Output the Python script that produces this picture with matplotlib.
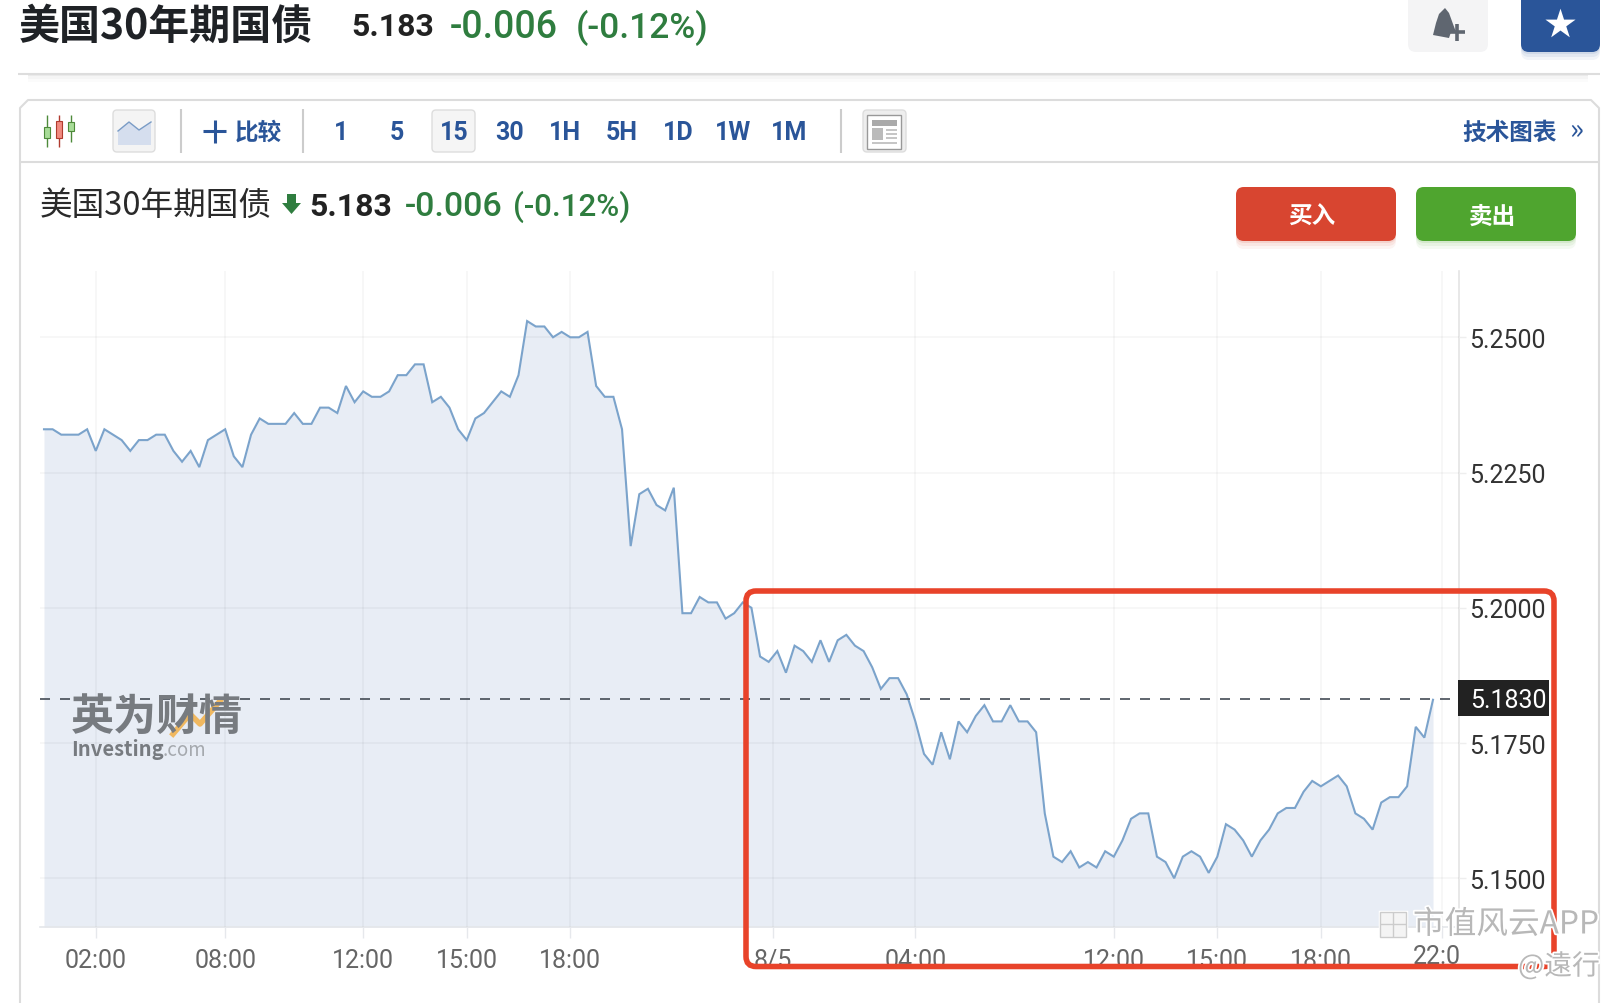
import matplotlib
matplotlib.use('Agg')
import matplotlib.pyplot as plt
import matplotlib.patheffects as pe
from matplotlib.patches import FancyBboxPatch, Rectangle, Polygon

plt.rcParams['font.family'] = ['Noto Sans CJK SC', 'DejaVu Sans']

## chart data, one point every 15 minutes ##
yields = [
    5.233, 5.233, 5.232, 5.232, 5.232, 5.233, 5.229, 5.233, 5.232, 5.231, 5.229, 5.231, 5.231, 5.232, 5.232,
    5.229, 5.227, 5.229, 5.226, 5.231, 5.232, 5.233, 5.228, 5.226, 5.232, 5.235, 5.234, 5.234, 5.234, 5.236,
    5.234, 5.234, 5.237, 5.237, 5.236, 5.241, 5.238, 5.240, 5.239, 5.239, 5.240, 5.243, 5.243, 5.245, 5.245,
    5.238, 5.239, 5.237, 5.233, 5.231, 5.235, 5.236, 5.238, 5.240, 5.239, 5.243, 5.253, 5.252, 5.252, 5.250,
    5.251, 5.250, 5.250, 5.251, 5.241, 5.239, 5.239, 5.233, 5.2114, 5.221, 5.222, 5.219, 5.218, 5.2222, 5.199,
    5.199, 5.202, 5.201, 5.201, 5.198, 5.199, 5.201, 5.200,
    5.191, 5.190, 5.192, 5.188, 5.193, 5.192, 5.190, 5.194, 5.190, 5.194, 5.195, 5.193, 5.192, 5.189, 5.185,
    5.187, 5.187, 5.184, 5.179, 5.173, 5.171, 5.177, 5.172, 5.179, 5.177, 5.180, 5.182, 5.179, 5.179, 5.182,
    5.179, 5.179, 5.177, 5.162, 5.154, 5.153, 5.155, 5.152, 5.153, 5.152, 5.155, 5.154, 5.157, 5.161, 5.162,
    5.162, 5.154, 5.153, 5.150,
    5.154, 5.155, 5.154, 5.151, 5.154, 5.160, 5.159, 5.157, 5.154, 5.157, 5.159, 5.162, 5.163, 5.163, 5.166,
    5.168, 5.167, 5.168, 5.169, 5.167, 5.162, 5.161, 5.159, 5.164, 5.165, 5.165, 5.167, 5.178, 5.176, 5.183,
]
x_tick_pos = [6, 21, 37, 49, 61, 84.5, 101, 124, 136, 148, 162]
x_tick_labels = ['02:00', '08:00', '12:00', '15:00', '18:00', '8/5', '04:00', '12:00', '15:00', '18:00', '']
y_ticks = [5.25, 5.225, 5.2, 5.175, 5.15]
last_price = 5.1832

W, H = 1622, 1004
BLUE = '#2a5599'
GREEN = '#2f7d3f'
NUM_FONT = ['Roboto', 'DejaVu Sans']

fig = plt.figure(figsize=(W / 100, H / 100), dpi=100, facecolor='white')

## chart area, placed by pixel edges ##
left, right, top, bottom = 40, 1459, 272, 928
ax = fig.add_axes([left / W, 1 - bottom / H, (right - left) / W, (bottom - top) / H])

# index 0 sits at x=44px, last point at x=1433px
px_per_idx = (1433 - 44) / (len(yields) - 1)
ax.set_xlim((left - 44) / px_per_idx, (right - 44) / px_per_idx)
# 5.25 sits at y=338.3px, 5410 px per unit
ax.set_ylim(5.25 - (bottom - 338.3) / 5410, 5.25 + (338.3 - top) / 5410)

idx = list(range(len(yields)))
ax.fill_between(idx, yields, ax.get_ylim()[0], color='#e8edf5', lw=0, zorder=1)
ax.plot(idx, yields, color='#7ba3cb', lw=1.5, zorder=3, solid_joinstyle='miter')

ax.set_xticks(x_tick_pos)
ax.set_xticklabels(x_tick_labels, fontsize=18, color='#666666', family=NUM_FONT)
ax.set_yticks(y_ticks)
ax.set_yticklabels([f'{v:.4f}' for v in y_ticks], fontsize=18, color='#333333', family=NUM_FONT)
ax.yaxis.tick_right()
ax.tick_params(axis='x', length=8, width=1, color='#e6e8ec', pad=7)
ax.tick_params(axis='y', length=5, width=1, color='#eeeeee', pad=2)
ax.grid(True, color='black', alpha=0.035, lw=1.2, zorder=2)
ax.set_axisbelow(False)
for side in ['top', 'left']:
    ax.spines[side].set_visible(False)
ax.spines['right'].set_color('#e4e4e4')
ax.spines['right'].set_linewidth(1.2)
ax.spines['bottom'].set_color('#e4e6ea')
ax.spines['bottom'].set_linewidth(1.2)

ax.plot([ax.get_xlim()[0], (1452 - 44) / px_per_idx], [last_price, last_price], color='#444b55', lw=1.2,
        dashes=(6, 6), zorder=4)

## page furniture, drawn in pixel coordinates ##
ui = fig.add_axes([0, 0, 1, 1], zorder=5)
ui.set_xlim(0, W)
ui.set_ylim(H, 0)
ui.axis('off')
ui.patch.set_alpha(0)


def put(x, y, s, size, color='#222222', weight='normal', ha='left', **kw):
    # the CJK font sits a little high with va=center
    return ui.text(x, y + 2.5, s, fontsize=size, color=color, fontweight=weight, ha=ha, va='center', **kw)


def box(x0, y0, x1, y1, color, r=6, ec='none', lw=0, z=2, alpha=None):
    p = FancyBboxPatch((x0 + r, y0 + r), x1 - x0 - 2 * r, y1 - y0 - 2 * r, boxstyle=f'round,pad={r},rounding_size={r}',
                       fc=color, ec=ec, lw=lw, zorder=z, alpha=alpha)
    ui.add_patch(p)


def hline(x0, x1, y, color, lw=1.5, z=2):
    ui.plot([x0, x1], [y, y], color=color, lw=lw, zorder=z, solid_capstyle='butt')


def vline(x, y0, y1, color, lw=1.5, z=2):
    ui.plot([x, x], [y0, y1], color=color, lw=lw, zorder=z, solid_capstyle='butt')


# page header
put(19, 24, '美国30年期国债', 29.5, '#1f2226', 'bold')
put(351, 25, '5.183', 23, '#222222', 'bold', family=NUM_FONT)
put(450, 25, '-0.006', 27, GREEN, 'medium', family=NUM_FONT)
put(576, 25, '(-0.12%)', 25.5, GREEN, 'medium', family=NUM_FONT)

# bell and star buttons
box(1408, -10, 1488, 53, '#f4f4f5', r=8)
ui.add_patch(Polygon([(1445, 9), (1449, 14), (1453, 25), (1456, 33), (1451, 33), (1449, 39), (1433, 36), (1436, 24),
                      (1439, 15)], fc='#5f6670', ec='none', zorder=3))
hline(1448, 1465, 33, '#5f6670', lw=2.6, z=4)
vline(1456.5, 25, 42, '#5f6670', lw=2.6, z=4)
for off, a in [(8, 0.06), (5, 0.08), (2, 0.1)]:
    box(1521, -10, 1600, 53 + off, BLUE, r=8, z=1, alpha=a)
box(1521, -10, 1600, 53, BLUE, r=8)
ui.scatter([1560], [25], s=520, marker='*', color='white', lw=0, zorder=3)

# header rule with a soft shadow
for off, a in [(8, 0.015), (5, 0.025), (2, 0.04)]:
    ui.add_patch(Rectangle((28, 75), 1560, off, fc='black', ec='none', alpha=a, zorder=1))
hline(18, 1600, 75, '#dddddd', lw=1.5)

# card outline and toolbar
ui.plot([20, 20, 28, 1591, 1599, 1599], [H, 109, 101, 101, 109, H], color='#dcdcdc', lw=1.5, zorder=2)
hline(20, 1599, 163, '#dcdcdc')

# candle icon
for cx, wick, body, col, edge in [(46.5, (116, 148), (128, 139), '#a8dc98', '#4d8a3a'),
                                  (58.5, (116, 148), (122, 139), '#f08a80', '#b03a2e'),
                                  (71, (116, 143), (123, 132), '#a8dc98', '#4d8a3a')]:
    vline(cx, wick[0], wick[1], edge, lw=1)
    ui.add_patch(Rectangle((cx - 3, body[0]), 6, body[1] - body[0], fc=col, ec=edge, lw=0.8, zorder=3))

# area icon
box(113, 111, 155, 153, '#f4f4f4', r=4, ec='#dddddd', lw=1)
ui.add_patch(Polygon([(118, 132), (129, 123), (139, 131), (151, 123), (151, 146), (118, 146)], fc='#d5deee', ec='none',
                     zorder=3))
ui.plot([118, 129, 139, 151], [132, 123, 131, 123], color='#7a9cc6', lw=1, zorder=4)

vline(181, 110, 154, '#cccccc')
vline(303, 110, 154, '#cccccc')
vline(841, 110, 154, '#cccccc')

hline(203, 226, 132, BLUE, lw=2.2)
vline(214.5, 121, 144, BLUE, lw=2.2)
put(235, 130, '比较', 17, BLUE, 'bold')

box(432, 111, 475, 153, '#f5f5f5', r=4, ec='#dddddd', lw=1)
for cx, lab in zip([341, 397, 454, 510, 565, 622, 678, 733, 789], ['1', '5', '15', '30', '1H', '5H', '1D', '1W', '1M']):
    put(cx, 130, lab, 18, BLUE, 'bold', ha='center', zorder=4, family=NUM_FONT)

# news icon
box(863, 111, 906, 153, '#eeeeee', r=4, ec='#dddddd', lw=1)
ui.add_patch(Rectangle((867, 116), 34, 34, fc='white', ec='#999999', lw=1, zorder=3))
ui.add_patch(Rectangle((872, 121), 25, 6, fc='#aaaaaa', ec='none', zorder=4))
ui.add_patch(Rectangle((872, 129), 11, 12, fc='#bbbbbb', ec='none', zorder=4))
for ly in [131, 135, 139]:
    hline(886, 897, ly, '#bbbbbb', lw=1.2, z=4)
hline(872, 897, 144, '#bbbbbb', lw=1.2, z=4)

put(1462, 130, '技术图表', 17, BLUE, 'bold')
put(1576, 128, '»', 21, BLUE, ha='center')

# instrument line
put(40, 203, '美国30年期国债', 23.5, '#2a2a2a')
ui.add_patch(Polygon([(287, 195), (296, 195), (296, 204), (301, 204), (291.5, 215), (282, 204), (287, 204)], fc=GREEN,
                     ec='none', zorder=3))
put(309, 205, '5.183', 23, '#222222', 'bold', family=NUM_FONT)
put(405, 204, '-0.006', 24.5, GREEN, 'medium', family=NUM_FONT)
put(513, 204, '(-0.12%)', 22.5, GREEN, 'medium', family=NUM_FONT)

# buy and sell buttons
for x0, x1, col, lab in [(1236, 1396, '#d84530', '买入'), (1416, 1576, '#4fa52f', '卖出')]:
    for off, a in [(8, 0.06), (5, 0.08), (2, 0.12)]:
        box(x0, 188, x1, 242 + off, col, r=8, z=1, alpha=a)
    box(x0, 188, x1, 242, col, r=8)
    put((x0 + x1) / 2 - 4, 214, lab, 17, 'white', 'bold', ha='center', zorder=4)

# last price tag
ui.add_patch(Rectangle((1458, 681), 91, 36, fc='#222222', ec='none', zorder=3))
put(1470, 698.5, '5.1830', 18, 'white', zorder=4, family=NUM_FONT)

put(1413, 955, '22:0', 18, '#666666', family=NUM_FONT)

# data provider logo
ui.plot([173, 190, 200, 220], [735, 715, 725, 702], color='#f0b860', lw=4, zorder=3)
put(71, 714, '英为财情', 31, '#777b80', 'bold', zorder=4)
put(71, 747, 'Investing', 14.5, '#777b80', 'bold', zorder=4)
put(163, 748, '.com', 13.5, '#a5a9ae', zorder=4)

# red highlight box
box(746, 592, 1554, 967.5, 'none', r=10, ec='#e8432a', lw=4, z=6)

# screenshot watermarks
halo = [pe.withStroke(linewidth=2.5, foreground='white')]
ui.add_patch(Rectangle((1380, 913), 26, 25, fc='#f4f4f4', ec='#cccccc', lw=1, zorder=7, path_effects=halo))
hline(1380, 1406, 925, '#cccccc', lw=1, z=8)
vline(1393, 913, 938, '#cccccc', lw=1, z=8)
put(1413, 923, '市值风云APP', 22.8, '#b8b8b8', zorder=8, path_effects=halo)
put(1518, 965, '@遠行', 20, '#b8b8b8', zorder=8, path_effects=halo)

fig.savefig('out.png', dpi=100)
